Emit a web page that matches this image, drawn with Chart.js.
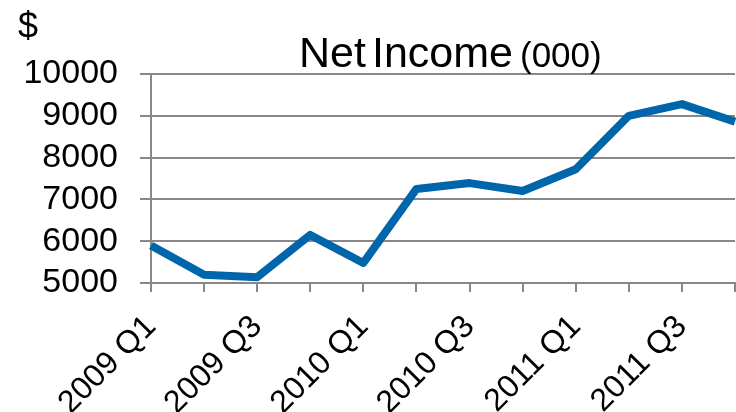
<!DOCTYPE html>
<html><head><meta charset="utf-8">
<script src="https://cdn.jsdelivr.net/npm/chart.js"></script>
<style>html,body{margin:0;padding:0;background:#fff}#wrap{position:relative;width:736px;height:412px}</style>
</head><body><div id="wrap"><canvas id="c" width="736" height="412"></canvas></div>
<script>
const categories = ['2009 Q1','2009 Q2','2009 Q3','2009 Q4','2010 Q1','2010 Q2','2010 Q3','2010 Q4','2011 Q1','2011 Q2','2011 Q3','2011 Q4'];
const netIncome = [5900,5200,5140,6150,5480,7250,7390,7200,7720,9000,9280,8860];
const yTicks = [5000,6000,7000,8000,9000,10000];
const titleMain = ['Net','Income'];
const titleUnit = '(000)';
const currency = '$';

const FONT = '"Liberation Sans", Arial, sans-serif';
const gridGray = '#888888';

const titlePlugin = {
  id: 'titleText',
  afterDraw(chart) {
    const ctx = chart.ctx;
    ctx.save();
    ctx.fillStyle = '#000';
    ctx.textBaseline = 'alphabetic';
    ctx.textAlign = 'left';
    ctx.font = '36px ' + FONT;
    ctx.fillText(currency, 18, 38);
    ctx.font = '43px ' + FONT;
    ctx.fillText(titleMain[0], 299, 67);
    ctx.fillText(titleMain[1], 372, 67);
    ctx.font = '35px ' + FONT;
    ctx.fillText(titleUnit, 520, 67);
    ctx.restore();
  }
};

new Chart(document.getElementById('c'), {
  type: 'line',
  data: {
    labels: categories,
    datasets: [{
      data: netIncome,
      borderColor: '#0066AB',
      borderWidth: 8,
      pointRadius: 0,
      tension: 0,
      borderJoinStyle: 'round',
      fill: false
    }]
  },
  options: {
    responsive: false,
    animation: false,
    devicePixelRatio: 1,
    layout: { padding: { top: 74, right: 1, left: 0, bottom: 0 } },
    plugins: { legend: { display: false }, tooltip: { enabled: false }, title: { display: false } },
    scales: {
      x: {
        offset: false,
        afterFit(s) { s.height = 129; s.paddingLeft = 0; s.paddingRight = 0; },
        grid: { drawOnChartArea: false, drawTicks: true, tickLength: 9, color: gridGray, lineWidth: 2 },
        border: { display: true, color: gridGray, width: 2 },
        ticks: {
          autoSkip: false, maxRotation: 45, minRotation: 45,
          padding: 16, labelOffset: 0,
          color: '#000', font: { family: FONT, size: 32 },
          callback: (v, i) => (i % 2 === 0 ? categories[i] : '')
        }
      },
      y: {
        min: yTicks[0], max: yTicks[yTicks.length - 1],
        afterFit(s) { s.width = 151; s.paddingTop = 0; s.paddingBottom = 0; },
        afterBuildTicks(s) { s.ticks = yTicks.map(v => ({ value: v })); },
        grid: { color: gridGray, lineWidth: 2, tickLength: 11, drawTicks: true },
        border: { display: true, color: gridGray, width: 2 },
        ticks: { autoSkip: false, padding: 22, color: '#000', font: { family: FONT, size: 34 }, callback: v => String(v) }
      }
    }
  },
  plugins: [titlePlugin]
});
</script></body></html>
